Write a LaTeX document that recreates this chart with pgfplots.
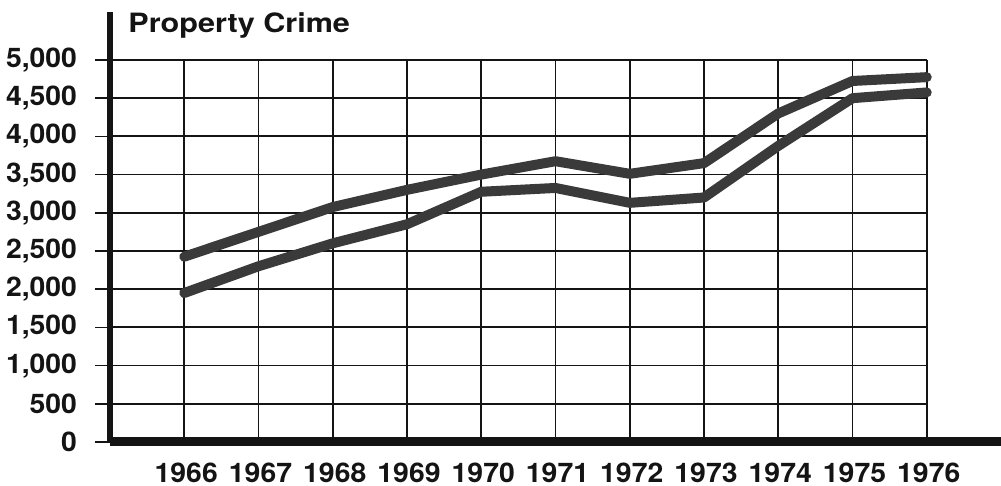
\documentclass[border=0pt]{standalone}
\usepackage{fontspec}
\setmainfont{TeX Gyre Heros}[FakeStretch=1.05]
\newfontfamily\titlefont{TeX Gyre Heros}[FakeStretch=1.15]
\usepackage{pgfplots}
\pgfplotsset{compat=1.18}
\definecolor{ink}{HTML}{141414}
\definecolor{trace}{HTML}{3A3A3A}

\pgfplotstableread{
year upper lower
1966 2425 1950
1967 2750 2300
1968 3075 2600
1969 3300 2850
1970 3500 3275
1971 3675 3325
1972 3510 3130
1973 3650 3200
1974 4300 3875
1975 4725 4500
1976 4775 4575
}\crimedata

\begin{document}
\begin{tikzpicture}
\useasboundingbox (-55pt,-22pt) rectangle (445.5pt,221pt);
\begin{axis}[
  at={(0,0)}, anchor=south west,
  scale only axis, width=445.5pt, height=215pt,
  xmin=1965, xmax=1977, ymin=0, ymax=5628,
  axis lines=left,
  axis line style={-, draw=ink},
  x axis line style={line width=4.5pt},
  y axis line style={line width=2.8pt},
  xtick={1966,1967,1968,1969,1970,1971,1972,1973,1974,1975,1976},
  xticklabels={1966,1967,1968,1969,1970,1971,1972,1973,1974,1975,1976},
  ytick={0,500,1000,1500,2000,2500,3000,3500,4000,4500,5000},
  yticklabels={0,500,{1,000},{1,500},{2,000},{2,500},{3,000},{3,500},{4,000},{4,500},{5,000}},
  tick align=outside,
  major tick length=7.5pt,
  xtick style={draw=none},
  ytick style={draw=ink, line width=0.8pt},
  ticklabel style={font=\fontsize{13.5}{16}\selectfont\bfseries, text=ink},
  yticklabel style={xshift=-5.5pt},
  xticklabel style={yshift=0.8pt, xshift=1pt},
  /pgf/number format/assume math mode=true,
]
% grid only spans the framed area, not the extended axes
\pgfplotsinvokeforeach{500,1000,1500,2000,2500,3000,3500,4000,4500,5000}{
  \draw[ink, line width=0.9pt] (axis cs:1965,#1) -- (axis cs:1976,#1);
}
\pgfplotsinvokeforeach{1966,1967,1968,1969,1970,1971,1972,1973,1974,1975,1976}{
  \draw[ink, line width=0.9pt] (axis cs:#1,0) -- (axis cs:#1,5000);
}
\addplot[trace, line width=5pt, line join=round, line cap=round] table[x=year, y=upper] {\crimedata};
\addplot[trace, line width=5pt, line join=round, line cap=round] table[x=year, y=lower] {\crimedata};
\end{axis}
\node[anchor=base west, font=\titlefont\fontsize{13.3}{16}\selectfont\bfseries, text=ink, inner sep=0pt]
  at (9pt,204.5pt) {Property Crime};
\end{tikzpicture}
\end{document}
